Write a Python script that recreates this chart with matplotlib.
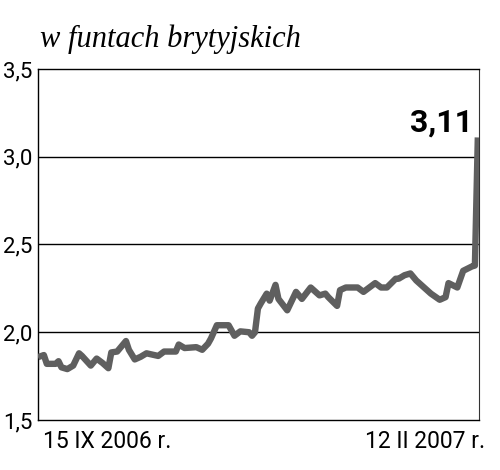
import matplotlib
matplotlib.use("Agg")
import matplotlib.pyplot as plt

# day offsets from 15 IX 2006 and price in GBP
days = [0, 2, 3, 6, 7, 8, 10, 12, 14, 15,
        18, 20, 22, 24, 25, 27, 30, 31, 33, 35,
        37, 41, 43, 47, 48, 50, 54, 56, 58, 59,
        61, 65, 67, 69, 72, 73, 74, 75, 76, 78,
        79, 81, 82, 85, 88, 90, 93, 96, 98, 99,
        102, 103, 105, 109, 111, 115, 117, 119, 122, 123,
        125, 127, 129, 131, 134, 137, 139, 140, 143, 145,
        148, 149, 150]
prices = [1.858, 1.87, 1.82, 1.82, 1.835, 1.80, 1.79, 1.81, 1.88, 1.865,
          1.81, 1.85, 1.825, 1.795, 1.885, 1.89, 1.95, 1.90, 1.845, 1.86,
          1.88, 1.865, 1.89, 1.89, 1.93, 1.91, 1.915, 1.90, 1.935, 1.965,
          2.04, 2.04, 1.98, 2.005, 2.0, 1.98, 2.0, 2.135, 2.165, 2.22,
          2.18, 2.27, 2.19, 2.125, 2.23, 2.19, 2.255, 2.21, 2.22, 2.20,
          2.15, 2.24, 2.255, 2.255, 2.23, 2.28, 2.255, 2.255, 2.305, 2.305,
          2.325, 2.335, 2.295, 2.265, 2.22, 2.185, 2.20, 2.28, 2.255, 2.35,
          2.375, 2.38, 3.11]

yticks = [1.5, 2.0, 2.5, 3.0, 3.5]
ytick_labels = ["1,5", "2,0", "2,5", "3,0", "3,5"]
title = "w funtach brytyjskich"
start_label = "15 IX 2006 r."
end_label = "12 II 2007 r."
last_label = "3,11"

narrow = ["Roboto", "DejaVu Sans"]

fig = plt.figure(figsize=(5.0, 4.7), dpi=100)
ax = fig.add_axes([0.076, 0.1064, 0.882, 0.7468])

ax.plot(days, prices, color="#5f5f5f", lw=4.6, solid_joinstyle="round",
        solid_capstyle="butt", zorder=3)

ax.set_xlim(days[0], days[-1] + 0.4)
ax.set_ylim(1.5, 3.5)
ax.set_yticks(yticks)
ax.set_yticklabels(ytick_labels, family=narrow, fontsize=16)
ax.set_xticks([])
ax.tick_params(axis="y", length=0, pad=4)

for s in ["left", "bottom", "top"]:
    ax.spines[s].set_color("black")
    ax.spines[s].set_linewidth(1.0)
ax.spines["right"].set_color("#333333")
ax.spines["right"].set_linewidth(0.8)

for v in yticks[1:-1]:
    ax.axhline(v, color="black", lw=1.0, zorder=1)

ax.text(days[-1] - 1.5, prices[-1] + 0.035, last_label, ha="right", va="baseline",
        fontsize=23, fontweight="bold", family=["Roboto", "DejaVu Sans"])

fig.text(0.08, 0.90, title, ha="left", va="baseline", fontsize=22,
         style="italic", family=["Liberation Serif", "DejaVu Serif"])

fig.text(0.086, 0.047, start_label, ha="left", va="baseline", fontsize=16.5, family=narrow)
fig.text(0.97, 0.047, end_label, ha="right", va="baseline", fontsize=16.5, family=narrow)

fig.savefig("out.png", dpi=100)
